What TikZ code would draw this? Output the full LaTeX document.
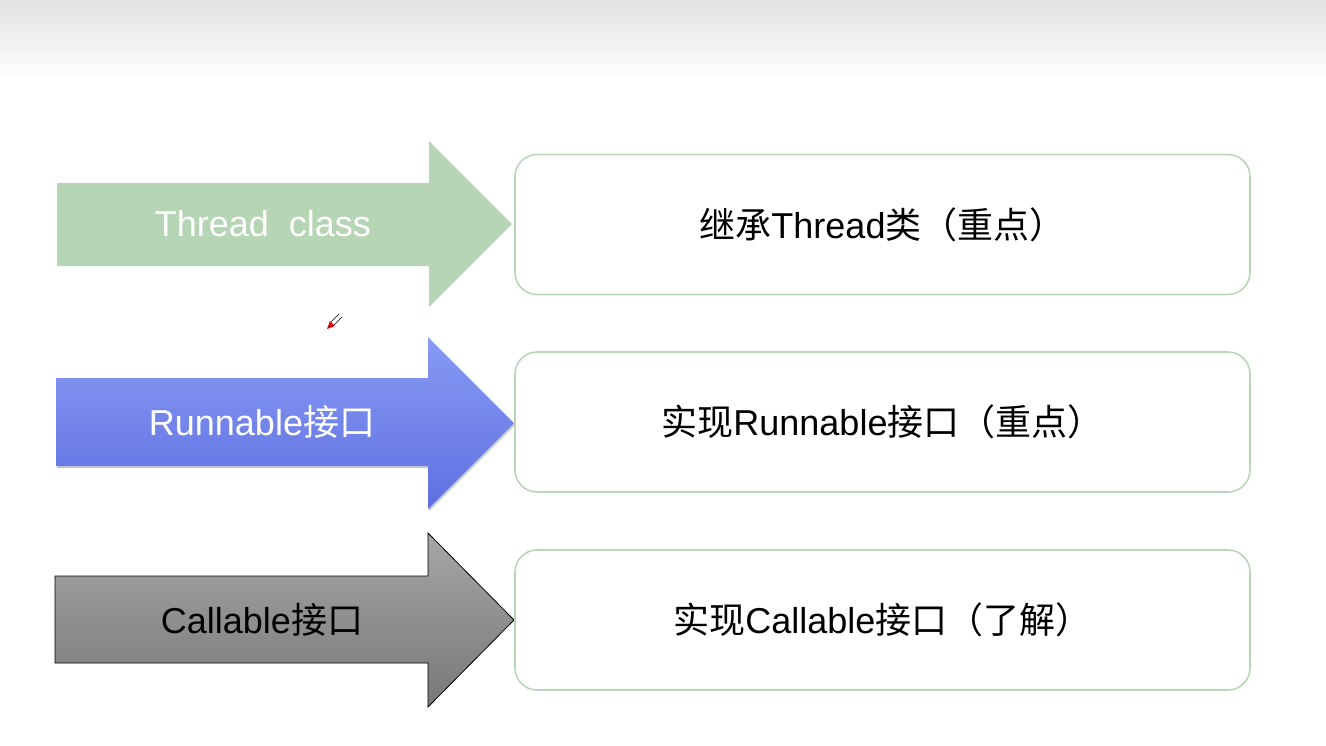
\documentclass[tikz,border=0pt]{standalone}
\usepackage{fontspec}
\setmainfont{Liberation Sans}
\newfontfamily\cjk{Noto Sans CJK SC}
\usetikzlibrary{positioning}

\definecolor{threadgreen}{RGB}{181,213,181}
\definecolor{boxline}{RGB}{186,214,184}
\definecolor{runtop}{RGB}{136,154,243}
\definecolor{runbot}{RGB}{94,112,226}
\definecolor{calltop}{RGB}{166,166,166}
\definecolor{callbot}{RGB}{120,120,120}
\definecolor{topband}{RGB}{226,226,226}

\tikzset{
  infobox/.style={draw=boxline, line width=1.6pt, rounded corners=22pt,
    minimum width=735pt, minimum height=140pt, inner sep=0pt},
  bigtext/.style={font=\fontsize{36}{43}\selectfont, inner sep=0pt},
}

\begin{document}
\begin{tikzpicture}[x=1pt, y=-1pt]
  \useasboundingbox (0,0) rectangle (1326,745);
  % header band of the slide
  \shade[top color=topband, bottom color=white] (0,0) rectangle (1326,80);

  % Thread arrow
  \fill[threadgreen] (57,183) -- (429,183) -- (429,141) -- (512,224)
    -- (429,307) -- (429,266) -- (57,266) -- cycle;
  \node[bigtext, text=white] (thread) at (263,224) {Thread\ \ class};

  % Runnable arrow (with a soft shadow)
  \fill[black!22] (57,380) -- (429,380) -- (429,339) -- (515,425)
    -- (429,511) -- (429,468) -- (57,468) -- cycle;
  \shade[top color=runtop, bottom color=runbot] (56,378) -- (428,378) -- (428,337)
    -- (514,423) -- (428,509) -- (428,466) -- (56,466) -- cycle;
  \node[bigtext, text=white] (runnable) at (262,422) {Runnable{\cjk 接口}};

  % Callable arrow
  \shade[top color=calltop, bottom color=callbot, draw=black, line width=0.8pt]
    (55,576) -- (428,576) -- (428,533) -- (514,620) -- (428,707) -- (428,663)
    -- (55,663) -- cycle;
  \node[bigtext, text=black] (callable) at (262,620) {Callable{\cjk 接口}};

  % boxes on the right
  \node[infobox] (box1) at (882.5,224.5) {};
  \node[infobox] (box2) at (882.5,422) {};
  \node[infobox] (box3) at (882.5,620) {};
  \node[bigtext] (extend) at (box1) {{\cjk 继承}Thread{\cjk 类（重点）}};
  \node[bigtext] (implrun) at (box2) {{\cjk 实现}Runnable{\cjk 接口（重点）}};
  \node[bigtext] (implcall) at (box3) {{\cjk 实现}Callable{\cjk 接口（了解）}};

  % pen cursor
  \draw[black, line width=0.4pt] (331,322) -- (339,314);
  \draw[black, line width=0.4pt] (334,325) -- (342,317);
  \fill[red!85!black] (327,329) -- (330,321) -- (335,326) -- cycle;
\end{tikzpicture}
\end{document}
